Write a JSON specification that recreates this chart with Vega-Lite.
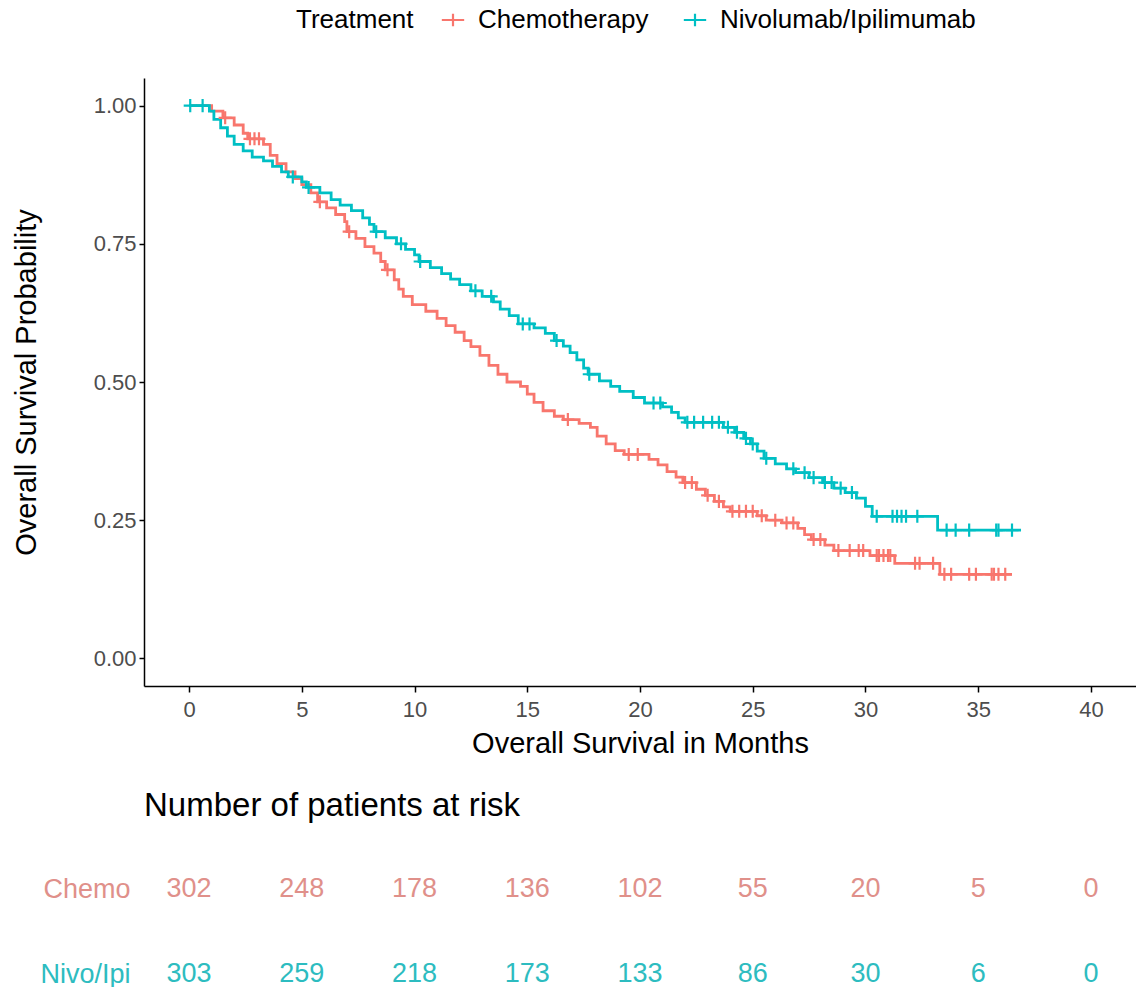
{
  "$schema": "https://vega.github.io/schema/vega-lite/v6.json",
  "background": "white",
  "padding": {"left": 12, "top": 7, "right": 0, "bottom": 0},
  "autosize": {"type": "pad"},
  "config": {"view": {"stroke": null}, "font": "Liberation Sans", "axis": {"grid": false}},
  "datasets": {
    "curves": [
      {"g":"Chemotherapy","t":0,"s":1.0},{"g":"Chemotherapy","t":1.0,"s":0.99},{"g":"Chemotherapy","t":1.5,"s":0.978},{"g":"Chemotherapy","t":2.0,"s":0.965},{"g":"Chemotherapy","t":2.4,"s":0.95},{"g":"Chemotherapy","t":2.6,"s":0.94},{"g":"Chemotherapy","t":3.3,"s":0.93},{"g":"Chemotherapy","t":3.6,"s":0.91},{"g":"Chemotherapy","t":3.9,"s":0.895},{"g":"Chemotherapy","t":4.3,"s":0.88},{"g":"Chemotherapy","t":4.7,"s":0.868},{"g":"Chemotherapy","t":5.0,"s":0.857},{"g":"Chemotherapy","t":5.4,"s":0.842},{"g":"Chemotherapy","t":5.7,"s":0.826},{"g":"Chemotherapy","t":6.1,"s":0.815},{"g":"Chemotherapy","t":6.5,"s":0.803},{"g":"Chemotherapy","t":6.9,"s":0.79},{"g":"Chemotherapy","t":7.0,"s":0.772},{"g":"Chemotherapy","t":7.4,"s":0.76},{"g":"Chemotherapy","t":7.8,"s":0.745},{"g":"Chemotherapy","t":8.2,"s":0.733},{"g":"Chemotherapy","t":8.5,"s":0.718},{"g":"Chemotherapy","t":8.7,"s":0.703},{"g":"Chemotherapy","t":9.1,"s":0.685},{"g":"Chemotherapy","t":9.3,"s":0.668},{"g":"Chemotherapy","t":9.5,"s":0.655},{"g":"Chemotherapy","t":9.9,"s":0.64},{"g":"Chemotherapy","t":10.5,"s":0.628},{"g":"Chemotherapy","t":11.0,"s":0.615},{"g":"Chemotherapy","t":11.4,"s":0.602},{"g":"Chemotherapy","t":11.8,"s":0.59},{"g":"Chemotherapy","t":12.2,"s":0.575},{"g":"Chemotherapy","t":12.5,"s":0.564},{"g":"Chemotherapy","t":12.9,"s":0.548},{"g":"Chemotherapy","t":13.3,"s":0.53},{"g":"Chemotherapy","t":13.7,"s":0.514},{"g":"Chemotherapy","t":14.1,"s":0.5},{"g":"Chemotherapy","t":14.7,"s":0.492},{"g":"Chemotherapy","t":15.0,"s":0.478},{"g":"Chemotherapy","t":15.3,"s":0.463},{"g":"Chemotherapy","t":15.7,"s":0.448},{"g":"Chemotherapy","t":16.2,"s":0.438},{"g":"Chemotherapy","t":16.6,"s":0.432},{"g":"Chemotherapy","t":17.3,"s":0.425},{"g":"Chemotherapy","t":17.8,"s":0.418},{"g":"Chemotherapy","t":18.1,"s":0.402},{"g":"Chemotherapy","t":18.5,"s":0.388},{"g":"Chemotherapy","t":18.9,"s":0.376},{"g":"Chemotherapy","t":19.3,"s":0.369},{"g":"Chemotherapy","t":20.4,"s":0.36},{"g":"Chemotherapy","t":20.8,"s":0.35},{"g":"Chemotherapy","t":21.2,"s":0.338},{"g":"Chemotherapy","t":21.6,"s":0.328},{"g":"Chemotherapy","t":21.9,"s":0.318},{"g":"Chemotherapy","t":22.5,"s":0.306},{"g":"Chemotherapy","t":22.9,"s":0.295},{"g":"Chemotherapy","t":23.3,"s":0.284},{"g":"Chemotherapy","t":23.7,"s":0.274},{"g":"Chemotherapy","t":24.0,"s":0.266},{"g":"Chemotherapy","t":25.2,"s":0.258},{"g":"Chemotherapy","t":25.6,"s":0.25},{"g":"Chemotherapy","t":26.3,"s":0.245},{"g":"Chemotherapy","t":27.0,"s":0.235},{"g":"Chemotherapy","t":27.3,"s":0.224},{"g":"Chemotherapy","t":27.6,"s":0.215},{"g":"Chemotherapy","t":28.2,"s":0.205},{"g":"Chemotherapy","t":28.6,"s":0.195},{"g":"Chemotherapy","t":30.2,"s":0.186},{"g":"Chemotherapy","t":31.3,"s":0.172},{"g":"Chemotherapy","t":33.3,"s":0.152},{"g":"Chemotherapy","t":36.5,"s":0.152},
      {"g":"Nivolumab/Ipilimumab","t":0,"s":1.0},{"g":"Nivolumab/Ipilimumab","t":0.9,"s":0.99},{"g":"Nivolumab/Ipilimumab","t":1.1,"s":0.975},{"g":"Nivolumab/Ipilimumab","t":1.4,"s":0.96},{"g":"Nivolumab/Ipilimumab","t":1.7,"s":0.945},{"g":"Nivolumab/Ipilimumab","t":2.0,"s":0.93},{"g":"Nivolumab/Ipilimumab","t":2.4,"s":0.918},{"g":"Nivolumab/Ipilimumab","t":2.8,"s":0.907},{"g":"Nivolumab/Ipilimumab","t":3.3,"s":0.9},{"g":"Nivolumab/Ipilimumab","t":3.7,"s":0.89},{"g":"Nivolumab/Ipilimumab","t":4.1,"s":0.88},{"g":"Nivolumab/Ipilimumab","t":4.4,"s":0.871},{"g":"Nivolumab/Ipilimumab","t":5.0,"s":0.862},{"g":"Nivolumab/Ipilimumab","t":5.2,"s":0.852},{"g":"Nivolumab/Ipilimumab","t":5.8,"s":0.842},{"g":"Nivolumab/Ipilimumab","t":6.3,"s":0.83},{"g":"Nivolumab/Ipilimumab","t":6.7,"s":0.82},{"g":"Nivolumab/Ipilimumab","t":7.2,"s":0.81},{"g":"Nivolumab/Ipilimumab","t":7.7,"s":0.797},{"g":"Nivolumab/Ipilimumab","t":8.0,"s":0.785},{"g":"Nivolumab/Ipilimumab","t":8.2,"s":0.772},{"g":"Nivolumab/Ipilimumab","t":8.7,"s":0.761},{"g":"Nivolumab/Ipilimumab","t":9.2,"s":0.75},{"g":"Nivolumab/Ipilimumab","t":9.6,"s":0.74},{"g":"Nivolumab/Ipilimumab","t":10.0,"s":0.73},{"g":"Nivolumab/Ipilimumab","t":10.2,"s":0.718},{"g":"Nivolumab/Ipilimumab","t":10.7,"s":0.707},{"g":"Nivolumab/Ipilimumab","t":11.2,"s":0.696},{"g":"Nivolumab/Ipilimumab","t":11.6,"s":0.686},{"g":"Nivolumab/Ipilimumab","t":12.0,"s":0.676},{"g":"Nivolumab/Ipilimumab","t":12.5,"s":0.665},{"g":"Nivolumab/Ipilimumab","t":13.0,"s":0.655},{"g":"Nivolumab/Ipilimumab","t":13.5,"s":0.645},{"g":"Nivolumab/Ipilimumab","t":13.8,"s":0.632},{"g":"Nivolumab/Ipilimumab","t":14.2,"s":0.62},{"g":"Nivolumab/Ipilimumab","t":14.6,"s":0.605},{"g":"Nivolumab/Ipilimumab","t":15.3,"s":0.598},{"g":"Nivolumab/Ipilimumab","t":15.8,"s":0.588},{"g":"Nivolumab/Ipilimumab","t":16.2,"s":0.575},{"g":"Nivolumab/Ipilimumab","t":16.6,"s":0.565},{"g":"Nivolumab/Ipilimumab","t":16.9,"s":0.553},{"g":"Nivolumab/Ipilimumab","t":17.2,"s":0.54},{"g":"Nivolumab/Ipilimumab","t":17.5,"s":0.525},{"g":"Nivolumab/Ipilimumab","t":17.7,"s":0.514},{"g":"Nivolumab/Ipilimumab","t":18.2,"s":0.502},{"g":"Nivolumab/Ipilimumab","t":18.7,"s":0.492},{"g":"Nivolumab/Ipilimumab","t":19.1,"s":0.483},{"g":"Nivolumab/Ipilimumab","t":19.7,"s":0.472},{"g":"Nivolumab/Ipilimumab","t":20.2,"s":0.462},{"g":"Nivolumab/Ipilimumab","t":21.0,"s":0.455},{"g":"Nivolumab/Ipilimumab","t":21.4,"s":0.445},{"g":"Nivolumab/Ipilimumab","t":21.7,"s":0.435},{"g":"Nivolumab/Ipilimumab","t":22.0,"s":0.427},{"g":"Nivolumab/Ipilimumab","t":23.7,"s":0.418},{"g":"Nivolumab/Ipilimumab","t":24.2,"s":0.409},{"g":"Nivolumab/Ipilimumab","t":24.6,"s":0.398},{"g":"Nivolumab/Ipilimumab","t":24.9,"s":0.388},{"g":"Nivolumab/Ipilimumab","t":25.2,"s":0.375},{"g":"Nivolumab/Ipilimumab","t":25.5,"s":0.362},{"g":"Nivolumab/Ipilimumab","t":26.0,"s":0.352},{"g":"Nivolumab/Ipilimumab","t":26.5,"s":0.343},{"g":"Nivolumab/Ipilimumab","t":26.9,"s":0.336},{"g":"Nivolumab/Ipilimumab","t":27.5,"s":0.327},{"g":"Nivolumab/Ipilimumab","t":28.1,"s":0.318},{"g":"Nivolumab/Ipilimumab","t":28.6,"s":0.308},{"g":"Nivolumab/Ipilimumab","t":29.1,"s":0.3},{"g":"Nivolumab/Ipilimumab","t":29.6,"s":0.29},{"g":"Nivolumab/Ipilimumab","t":30.0,"s":0.275},{"g":"Nivolumab/Ipilimumab","t":30.3,"s":0.257},{"g":"Nivolumab/Ipilimumab","t":33.2,"s":0.232},{"g":"Nivolumab/Ipilimumab","t":36.9,"s":0.232}
    ],
    "censors": [
      {"g":"Chemotherapy","t":1.6,"s":0.978},{"g":"Chemotherapy","t":2.7,"s":0.94},{"g":"Chemotherapy","t":2.9,"s":0.94},{"g":"Chemotherapy","t":3.1,"s":0.94},{"g":"Chemotherapy","t":5.8,"s":0.826},{"g":"Chemotherapy","t":7.1,"s":0.772},{"g":"Chemotherapy","t":8.8,"s":0.703},{"g":"Chemotherapy","t":16.8,"s":0.432},{"g":"Chemotherapy","t":19.5,"s":0.369},{"g":"Chemotherapy","t":19.9,"s":0.369},{"g":"Chemotherapy","t":22.0,"s":0.318},{"g":"Chemotherapy","t":22.3,"s":0.318},{"g":"Chemotherapy","t":23.0,"s":0.295},{"g":"Chemotherapy","t":23.5,"s":0.284},{"g":"Chemotherapy","t":24.1,"s":0.266},{"g":"Chemotherapy","t":24.4,"s":0.266},{"g":"Chemotherapy","t":24.7,"s":0.266},{"g":"Chemotherapy","t":25.0,"s":0.266},{"g":"Chemotherapy","t":25.4,"s":0.258},{"g":"Chemotherapy","t":26.0,"s":0.25},{"g":"Chemotherapy","t":26.5,"s":0.245},{"g":"Chemotherapy","t":26.8,"s":0.245},{"g":"Chemotherapy","t":27.7,"s":0.215},{"g":"Chemotherapy","t":28.0,"s":0.215},{"g":"Chemotherapy","t":28.8,"s":0.195},{"g":"Chemotherapy","t":29.3,"s":0.195},{"g":"Chemotherapy","t":29.7,"s":0.195},{"g":"Chemotherapy","t":29.9,"s":0.195},{"g":"Chemotherapy","t":30.5,"s":0.186},{"g":"Chemotherapy","t":30.6,"s":0.186},{"g":"Chemotherapy","t":30.8,"s":0.186},{"g":"Chemotherapy","t":31.0,"s":0.186},{"g":"Chemotherapy","t":31.1,"s":0.186},{"g":"Chemotherapy","t":32.2,"s":0.172},{"g":"Chemotherapy","t":32.4,"s":0.172},{"g":"Chemotherapy","t":33.0,"s":0.172},{"g":"Chemotherapy","t":33.5,"s":0.152},{"g":"Chemotherapy","t":33.8,"s":0.152},{"g":"Chemotherapy","t":34.6,"s":0.152},{"g":"Chemotherapy","t":34.9,"s":0.152},{"g":"Chemotherapy","t":35.6,"s":0.152},{"g":"Chemotherapy","t":35.7,"s":0.152},{"g":"Chemotherapy","t":35.9,"s":0.152},{"g":"Chemotherapy","t":36.2,"s":0.152},
      {"g":"Nivolumab/Ipilimumab","t":0.05,"s":1.0},{"g":"Nivolumab/Ipilimumab","t":0.6,"s":1.0},{"g":"Nivolumab/Ipilimumab","t":4.6,"s":0.871},{"g":"Nivolumab/Ipilimumab","t":5.3,"s":0.852},{"g":"Nivolumab/Ipilimumab","t":8.3,"s":0.772},{"g":"Nivolumab/Ipilimumab","t":9.4,"s":0.75},{"g":"Nivolumab/Ipilimumab","t":10.25,"s":0.718},{"g":"Nivolumab/Ipilimumab","t":12.7,"s":0.665},{"g":"Nivolumab/Ipilimumab","t":13.4,"s":0.655},{"g":"Nivolumab/Ipilimumab","t":14.8,"s":0.605},{"g":"Nivolumab/Ipilimumab","t":15.1,"s":0.605},{"g":"Nivolumab/Ipilimumab","t":16.3,"s":0.575},{"g":"Nivolumab/Ipilimumab","t":17.75,"s":0.514},{"g":"Nivolumab/Ipilimumab","t":20.6,"s":0.462},{"g":"Nivolumab/Ipilimumab","t":20.9,"s":0.462},{"g":"Nivolumab/Ipilimumab","t":22.1,"s":0.427},{"g":"Nivolumab/Ipilimumab","t":22.4,"s":0.427},{"g":"Nivolumab/Ipilimumab","t":22.8,"s":0.427},{"g":"Nivolumab/Ipilimumab","t":23.2,"s":0.427},{"g":"Nivolumab/Ipilimumab","t":23.5,"s":0.427},{"g":"Nivolumab/Ipilimumab","t":23.9,"s":0.418},{"g":"Nivolumab/Ipilimumab","t":24.3,"s":0.409},{"g":"Nivolumab/Ipilimumab","t":24.7,"s":0.398},{"g":"Nivolumab/Ipilimumab","t":25.0,"s":0.388},{"g":"Nivolumab/Ipilimumab","t":25.6,"s":0.362},{"g":"Nivolumab/Ipilimumab","t":26.8,"s":0.343},{"g":"Nivolumab/Ipilimumab","t":27.3,"s":0.336},{"g":"Nivolumab/Ipilimumab","t":27.7,"s":0.327},{"g":"Nivolumab/Ipilimumab","t":28.2,"s":0.318},{"g":"Nivolumab/Ipilimumab","t":28.5,"s":0.318},{"g":"Nivolumab/Ipilimumab","t":28.9,"s":0.308},{"g":"Nivolumab/Ipilimumab","t":29.4,"s":0.3},{"g":"Nivolumab/Ipilimumab","t":30.5,"s":0.257},{"g":"Nivolumab/Ipilimumab","t":31.2,"s":0.257},{"g":"Nivolumab/Ipilimumab","t":31.4,"s":0.257},{"g":"Nivolumab/Ipilimumab","t":31.6,"s":0.257},{"g":"Nivolumab/Ipilimumab","t":31.8,"s":0.257},{"g":"Nivolumab/Ipilimumab","t":32.3,"s":0.257},{"g":"Nivolumab/Ipilimumab","t":33.6,"s":0.232},{"g":"Nivolumab/Ipilimumab","t":34.0,"s":0.232},{"g":"Nivolumab/Ipilimumab","t":34.6,"s":0.232},{"g":"Nivolumab/Ipilimumab","t":35.8,"s":0.232},{"g":"Nivolumab/Ipilimumab","t":35.9,"s":0.232},{"g":"Nivolumab/Ipilimumab","t":36.5,"s":0.232}
    ],
    "risk": [
      {"grp":"Chemo","t":0,"n":302},{"grp":"Chemo","t":5,"n":248},{"grp":"Chemo","t":10,"n":178},{"grp":"Chemo","t":15,"n":136},{"grp":"Chemo","t":20,"n":102},{"grp":"Chemo","t":25,"n":55},{"grp":"Chemo","t":30,"n":20},{"grp":"Chemo","t":35,"n":5},{"grp":"Chemo","t":40,"n":0},
      {"grp":"Nivo/Ipi","t":0,"n":303},{"grp":"Nivo/Ipi","t":5,"n":259},{"grp":"Nivo/Ipi","t":10,"n":218},{"grp":"Nivo/Ipi","t":15,"n":173},{"grp":"Nivo/Ipi","t":20,"n":133},{"grp":"Nivo/Ipi","t":25,"n":86},{"grp":"Nivo/Ipi","t":30,"n":30},{"grp":"Nivo/Ipi","t":35,"n":6},{"grp":"Nivo/Ipi","t":40,"n":0}
    ]
  },
  "spacing": 32,
  "resolve": {"scale": {"x": "independent", "color": "independent"}, "legend": {"color": "independent"}},
  "vconcat": [
    {
      "width": 992,
      "height": 608,
      "encoding": {
        "x": {"field": "t", "type": "quantitative",
          "scale": {"domain": [-2, 42], "nice": false, "zero": false},
          "axis": {"values": [0,5,10,15,20,25,30,35,40], "title": "Overall Survival in Months", "titleFontSize": 29, "titleFontWeight": "normal", "titleColor": "#000000", "labelFontSize": 22, "labelColor": "#4D4D4D", "tickSize": 6, "labelPadding": 7, "titlePadding": 9, "domainColor": "#000000", "tickColor": "#000000", "domainWidth": 1.5, "tickWidth": 1.5}},
        "y": {"field": "s", "type": "quantitative",
          "scale": {"domain": [-0.05, 1.05], "nice": false, "zero": false},
          "axis": {"values": [0,0.25,0.5,0.75,1], "format": ".2f", "title": "Overall Survival Probability", "titleFontSize": 29, "titleFontWeight": "normal", "titleColor": "#000000", "labelFontSize": 22, "labelColor": "#4D4D4D", "tickSize": 5, "labelPadding": 3, "titlePadding": 52, "domainColor": "#000000", "tickColor": "#000000", "domainWidth": 1.5, "tickWidth": 1.5}},
        "color": {"field": "g", "type": "nominal",
          "scale": {"domain": ["Chemotherapy", "Nivolumab/Ipilimumab"], "range": ["#F8766D", "#00BFC4"]},
          "legend": {"title": "Treatment", "orient": "none", "legendX": 152, "legendY": -71, "direction": "horizontal", "titleOrient": "left", "titleFontSize": 26, "titleFontWeight": "normal", "titleColor": "#000000", "labelFontSize": 26, "labelColor": "#000000", "labelLimit": 400, "symbolType": "M-1,0H1M0,-0.55V0.55", "symbolSize": 500, "symbolStrokeWidth": 2.2, "titlePadding": 26, "labelOffset": 12, "columnPadding": 30}}
      },
      "layer": [
        {"data": {"name": "curves"}, "mark": {"type": "line", "interpolate": "step-after", "strokeWidth": 2.8}},
        {"data": {"name": "censors"}, "mark": {"type": "point", "shape": "M-1,0H1M0,-1V1", "filled": false, "strokeWidth": 2.2, "size": 170, "opacity": 1}}
      ]
    },
    {
      "width": 992,
      "height": 85,
      "data": {"name": "risk"},
      "title": {"text": "Number of patients at risk", "anchor": "start", "frame": "group", "fontSize": 33, "fontWeight": "normal", "color": "#000000", "offset": 52},
      "mark": {"type": "text", "fontSize": 27, "baseline": "middle", "align": "center"},
      "encoding": {
        "x": {"field": "t", "type": "quantitative", "scale": {"domain": [-2, 42], "nice": false, "zero": false}, "axis": null},
        "y": {"field": "grp", "type": "ordinal", "scale": {"type": "point", "domain": ["Chemo", "Nivo/Ipi"], "padding": 0},
          "axis": {"title": null, "domain": false, "ticks": false, "labelFontSize": 27, "labelPadding": 14,
            "labelColor": {"condition": {"test": "datum.value === 'Chemo'", "value": "#E0908A"}, "value": "#2DBCC0"}}},
        "text": {"field": "n", "type": "quantitative"},
        "color": {"condition": {"test": "datum.grp === 'Chemo'", "value": "#E0908A"}, "value": "#2DBCC0"}
      }
    }
  ]
}
